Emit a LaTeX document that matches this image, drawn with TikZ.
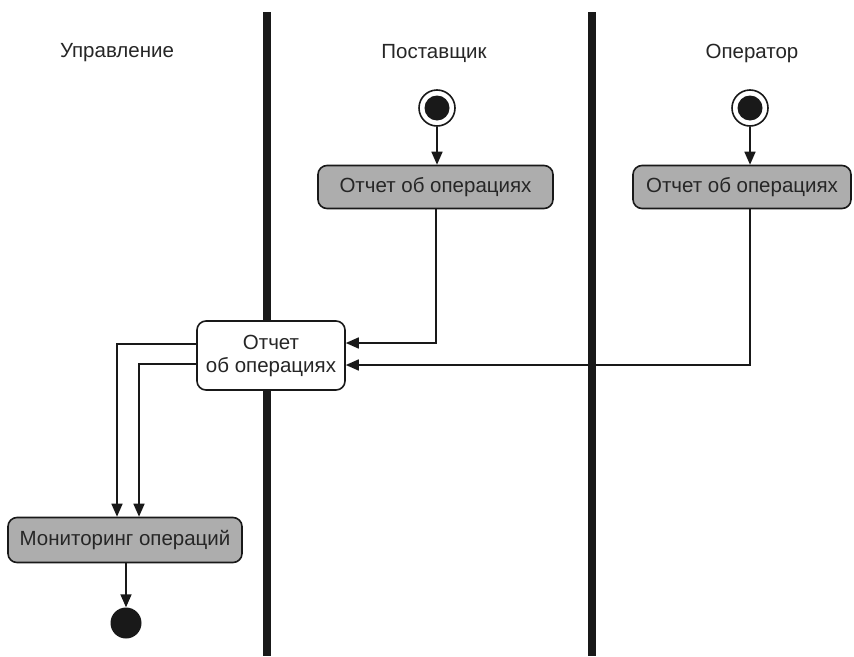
\documentclass[tikz,border=0pt]{standalone}
\usepackage{fontspec}
\setmainfont{Liberation Sans}
\usetikzlibrary{arrows.meta}
\begin{document}
\begin{tikzpicture}[x=1pt,y=-1pt,
  every node/.style={font=\fontsize{20.5}{23}\selectfont, text=black!85},
  lane/.style={line width=8pt, draw=black!90},
  act/.style={draw=black!90, line width=1.6pt, rounded corners=9pt, fill=black!32, minimum height=43pt, inner sep=0pt, align=center},
  obj/.style={draw=black!90, line width=1.6pt, rounded corners=9pt, fill=white, minimum height=69pt, minimum width=148pt, inner sep=0pt, align=center},
  startnode/.style={circle, draw=black!90, line width=1.6pt, fill=white, minimum size=36pt, inner sep=0pt,
    path picture={\fill[black!90] (path picture bounding box.center) circle (12.5pt);}},
  endnode/.style={circle, fill=black!90, minimum size=31pt, inner sep=0pt},
  flow/.style={draw=black!90, line width=1.6pt, -{Triangle[length=13pt,width=11pt]}},
  header/.style={}]
\useasboundingbox (0,0) rectangle (854,656);
\fill[white] (0,0) rectangle (854,656);
\coordinate (l1t) at (267,12);
\coordinate (l1b) at (267,656);
\coordinate (l2t) at (592,12);
\coordinate (l2b) at (592,656);
\draw[lane] (l1t) -- (l1b);
\draw[lane] (l2t) -- (l2b);

\node[header] (h1) at (117,53) {Управление};
\node[header] (h2) at (434,53) {Поставщик};
\node[header] (h3) at (752,53) {Оператор};

\node[startnode] (s1) at (437,108) {};
\node[startnode] (s2) at (750,108) {};
\node[act, minimum width=235pt] (a1) at (435.5,187) {Отчет об операциях};
\node[act, minimum width=218pt] (a2) at (742,187) {Отчет об операциях};
\node[obj] (o) at (271,355.5) {Отчет\\об операциях};
\node[act, minimum width=234pt, minimum height=45pt] (m) at (125,540) {Мониторинг операций};
\node[endnode] (e) at (126,623) {};

\draw[flow] (s1) -- (s1 |- a1.north);
\draw[flow] (s2) -- (s2 |- a2.north);
\draw[flow] (a1.south -| 436,0) |- (o.east |- 0,343);
\draw[flow] (a2.south -| 750,0) |- (o.east |- 0,365);
\draw[flow] (o.west |- 0,344) -| (117,0 |- m.north);
\draw[flow] (o.west |- 0,364) -| (139,0 |- m.north);
\draw[flow] (m.south -| e) -- (e.north);
\end{tikzpicture}
\end{document}
